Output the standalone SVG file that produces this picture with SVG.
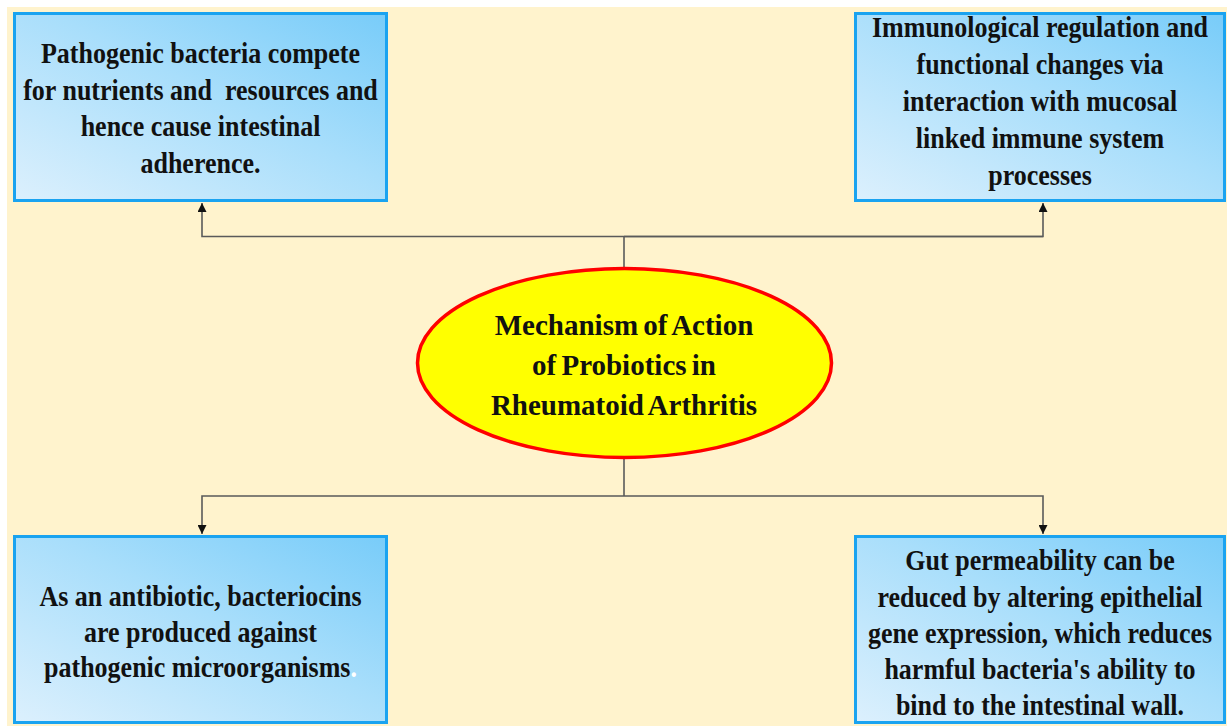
<svg xmlns="http://www.w3.org/2000/svg" width="1227" height="726" viewBox="0 0 1227 726">
  <defs>
    <linearGradient id="boxGrad" x1="0" y1="1" x2="1" y2="0">
      <stop offset="0" stop-color="#DCF0FD"/>
      <stop offset="0.55" stop-color="#A8DEFB"/>
      <stop offset="1" stop-color="#78CCF9"/>
    </linearGradient>
    <marker id="arrow" viewBox="0 0 10 10" refX="10" refY="5" markerWidth="9" markerHeight="9" markerUnits="userSpaceOnUse" orient="auto">
      <path d="M0,0 L10,5 L0,10 z" fill="#111"/>
    </marker>
    <style>
      .box { fill: url(#boxGrad); stroke: #1AA3F0; stroke-width: 3; }
      .txt { font-family: "Liberation Serif", "Times New Roman", serif; font-weight: bold; font-size: 26px; fill: #111; text-anchor: middle; }
      .title { font-family: "Liberation Serif", "Times New Roman", serif; font-weight: bold; font-size: 29px; word-spacing: -2px; fill: #111; text-anchor: middle; }
      .conn { fill: none; stroke: #5A5A5A; stroke-width: 1.6; }
    </style>
  </defs>
  <rect x="0" y="0" width="1227" height="726" fill="#FFFFFF"/>
  <rect x="7" y="7" width="1220" height="719" fill="#FFF3CD"/>

  <g id="connectors">
    <path class="conn" d="M624,268 V236.5"/>
    <path class="conn" d="M1043,236.5 H202 V203" marker-end="url(#arrow)"/>
    <path class="conn" d="M624,236.5 H1043 V203" marker-end="url(#arrow)"/>
    <path class="conn" d="M624,458 V496"/>
    <path class="conn" d="M624,496 H202 V534" marker-end="url(#arrow)"/>
    <path class="conn" d="M624,496 H1043 V534" marker-end="url(#arrow)"/>
  </g>

  <g id="node-top-left">
    <rect class="box" x="14.5" y="13.5" width="372" height="187"/>
    <text class="txt" transform="translate(200.5,63) scale(1,1.1)">Pathogenic bacteria compete</text>
    <text class="txt" transform="translate(200.5,99.5) scale(1,1.1)" xml:space="preserve">for nutrients and  resources and</text>
    <text class="txt" transform="translate(200.5,136) scale(1,1.1)">hence cause intestinal</text>
    <text class="txt" transform="translate(200.5,172.5) scale(1,1.1)">adherence.</text>
  </g>

  <g id="node-top-right">
    <rect class="box" x="855.5" y="13.5" width="369" height="187"/>
    <text class="txt" transform="translate(1040,36.5) scale(1,1.1)">Immunological regulation and</text>
    <text class="txt" transform="translate(1040,73.5) scale(1,1.1)">functional changes via</text>
    <text class="txt" transform="translate(1040,110.5) scale(1,1.1)">interaction with mucosal</text>
    <text class="txt" transform="translate(1040,148) scale(1,1.1)">linked immune system</text>
    <text class="txt" transform="translate(1040,185) scale(1,1.1)">processes</text>
  </g>

  <g id="node-center">
    <ellipse cx="624.5" cy="363" rx="207" ry="94.5" fill="#FFFF00" stroke="#FF0000" stroke-width="3.5"/>
    <text class="title" x="624" y="335">Mechanism of Action</text>
    <text class="title" x="624" y="375">of Probiotics in</text>
    <text class="title" x="624" y="415">Rheumatoid Arthritis</text>
  </g>

  <g id="node-bottom-left">
    <rect class="box" x="14.5" y="536.5" width="372" height="186"/>
    <text class="txt" transform="translate(200.5,606) scale(1,1.1)">As an antibiotic, bacteriocins</text>
    <text class="txt" transform="translate(200.5,641.5) scale(1,1.1)">are produced against</text>
    <text class="txt" transform="translate(200.5,677) scale(1,1.1)">pathogenic microorganisms<tspan fill="#FFFFFF">.</tspan></text>
  </g>

  <g id="node-bottom-right">
    <rect class="box" x="855.5" y="536.5" width="369" height="186"/>
    <text class="txt" transform="translate(1040,570) scale(1,1.1)">Gut permeability can be</text>
    <text class="txt" transform="translate(1040,607) scale(1,1.1)">reduced by altering epithelial</text>
    <text class="txt" transform="translate(1040,643) scale(1,1.1)">gene expression, which reduces</text>
    <text class="txt" transform="translate(1040,679) scale(1,1.1)">harmful bacteria's ability to</text>
    <text class="txt" transform="translate(1040,715) scale(1,1.1)">bind to the intestinal wall.</text>
  </g>
</svg>
